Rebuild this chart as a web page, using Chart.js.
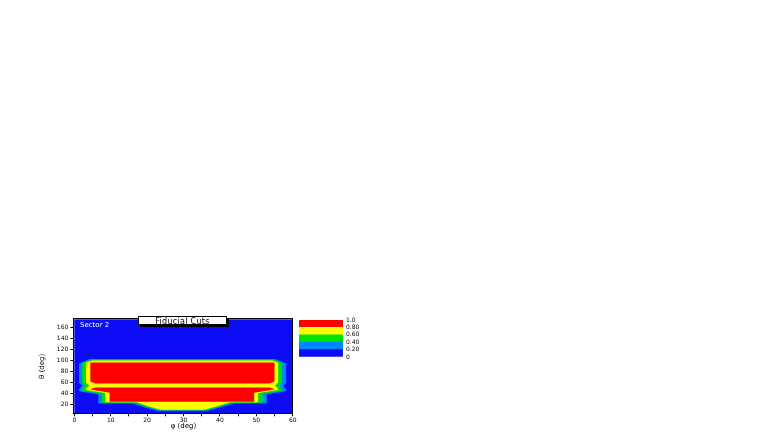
<!DOCTYPE html>
<html>
<head>
<meta charset="utf-8">
<script src="https://cdn.jsdelivr.net/npm/chart.js@4.4.0/dist/chart.umd.min.js"></script>
<style>
html, body { margin: 0; padding: 0; background: #fff; width: 763px; height: 436px; overflow: hidden; }
#main { position: absolute; left: 0; top: 300px; }
#scale { position: absolute; left: 295px; top: 310px; }
#title {
  position: absolute; left: 138px; top: 316px; width: 87px; height: 6px; padding-top: 1px;
  background: #fff; border: 1px solid #000; box-shadow: 2px 2px 0 #000;
  font: 8px "DejaVu Sans", sans-serif; line-height: 7px; text-align: center; color: #000;
  letter-spacing: 0.3px; overflow: visible;
}
#sector {
  position: absolute; left: 80px; top: 321px;
  font: 7px "DejaVu Sans", sans-serif; color: #fff;
}
</style>
</head>
<body>
<canvas id="main" width="320" height="130"></canvas>
<canvas id="scale" width="70" height="50"></canvas>
<div id="title">Fiducial Cuts</div>
<div id="sector">Sector 2</div>
<script>
// contour levels and colour scale labels
const levels = [0, 0.2, 0.4, 0.6, 0.8, 1.0];
const levelLabels = ['0', '0.20', '0.40', '0.60', '0.80', '1.0'];

const phiTicks = [0, 10, 20, 30, 40, 50, 60];
const phiMinorTicks = [5, 15, 25, 35, 45, 55];
const thetaTicks = [20, 40, 60, 80, 100, 120, 140, 160];

// contour outlines, [phi, theta]
const contour20 = [[4.0,102.5],[55.3,102.5],[58.2,94.5],[58.2,59],[57.4,54.5],[58.2,47.5],[58.2,44],[52.9,38.5],[52.9,22],
  [44,22],[40,14.5],[36.5,8.3],[23,8.3],[19.5,14.5],[16,22],[6.6,22],[6.6,38.5],[1.3,44],[1.3,47.5],[2.1,54.5],[1.3,59],[1.3,94.5]];
const contour40 = [[4.6,101.8],[54.8,101.8],[57.1,95.5],[57.1,59],[56.3,54.5],[57.1,48],[57.1,45.2],[51.7,39.7],[51.7,23],
  [43.4,23],[39.5,15.5],[36.1,9.4],[23.4,9.4],[20,15.5],[16.6,23],[7.6,23],[7.6,39.7],[2.2,45.2],[2.2,48],[3,54.5],[2.2,59],[2.2,95.5]];
const contour60 = [[5,100],[54.4,100],[56,96],[56,60],[55.1,54.5],[56,48.5],[56,46.4],[50.5,40.8],[50.5,24],
  [42.8,24],[39,16.5],[35.7,10.5],[23.8,10.5],[20.5,16.5],[17.2,24],[8.5,24],[8.5,40.8],[3.2,46.4],[3.2,48.5],[4.1,54.5],[3.2,60],[3.2,96]];
const contour80Upper = [[4.4,96.5],[55,96.5],[55,62],[53.6,58.2],[5.8,58.2],[4.4,62]];
const contour80Lower = [[5.8,51],[53.6,51],[54.9,48],[54.9,47.2],[49.4,41.5],[49.4,24.8],[9.7,24.8],[9.7,41.5],[4.5,47.2],[4.5,48]];

const palette = ['rgb(12,12,245)', 'rgb(0,135,255)', 'rgb(0,225,0)', 'rgb(255,255,0)', 'rgb(255,0,0)'];

Chart.defaults.font.family = '"DejaVu Sans", sans-serif';
Chart.defaults.color = '#000';

function band(points, color) {
  return {
    data: points.map(([x, y]) => ({x, y})),
    fill: 'shape', backgroundColor: color, borderColor: color,
    borderWidth: 0, pointRadius: 0, tension: 0
  };
}

const frame = {
  id: 'frame',
  beforeDatasetsDraw(chart) {
    const a = chart.chartArea, ctx = chart.ctx;
    ctx.save();
    ctx.fillStyle = palette[0];
    ctx.fillRect(a.left, a.top, a.right - a.left, a.bottom - a.top);
    ctx.restore();
  },
  afterDatasetsDraw(chart) {
    const a = chart.chartArea, ctx = chart.ctx;
    ctx.save();
    ctx.strokeStyle = '#000';
    ctx.lineWidth = 1;
    ctx.strokeRect(Math.round(a.left) - 0.5, Math.round(a.top) - 0.5, Math.round(a.right - a.left) + 1, Math.round(a.bottom - a.top) + 1);
    ctx.restore();
  }
};

// first dataset is drawn on top, so the innermost level goes first
new Chart(document.getElementById('main'), {
  type: 'line',
  data: {
    datasets: [
      band(contour80Upper, palette[4]),
      band(contour80Lower, palette[4]),
      band(contour60, palette[3]),
      band(contour40, palette[2]),
      band(contour20, palette[1])
    ]
  },
  options: {
    responsive: false,
    animation: false,
    events: [],
    layout: {padding: {left: 36, top: 19.3, right: 27.3, bottom: 0}},
    plugins: {legend: {display: false}, tooltip: {enabled: false}},
    scales: {
      x: {
        type: 'linear', min: 0, max: 60,
        afterBuildTicks: s => { s.ticks = phiTicks.concat(phiMinorTicks).sort((a, b) => a - b).map(v => ({value: v})); },
        ticks: {font: {size: 6}, padding: 1, maxRotation: 0, autoSkip: false,
          callback: v => phiTicks.includes(v) ? String(v) : ''},
        grid: {drawOnChartArea: false, tickLength: 3, color: '#000'},
        border: {display: false},
        title: {display: true, text: 'φ (deg)', font: {size: 7}, padding: {top: 0, bottom: 0}},
        afterFit: s => { s.height = 16.7; }
      },
      y: {
        type: 'linear', min: 4, max: 175,
        afterBuildTicks: s => { s.ticks = thetaTicks.map(v => ({value: v})); },
        ticks: {font: {size: 6}, padding: 2, autoSkip: false},
        grid: {drawOnChartArea: false, tickLength: 4, color: '#000'},
        border: {display: false},
        title: {display: true, text: 'θ (deg)', font: {size: 7}, padding: {top: 2, bottom: 0}},
        afterFit: s => { s.width = 38.3; }
      }
    }
  },
  plugins: [frame]
});

// colour scale
new Chart(document.getElementById('scale'), {
  type: 'bar',
  data: {
    labels: [''],
    datasets: palette.map((c, i) => ({
      data: [[levels[i], levels[i + 1]]],
      backgroundColor: c, borderWidth: 0,
      barPercentage: 1, categoryPercentage: 1
    }))
  },
  options: {
    responsive: false,
    animation: false,
    events: [],
    layout: {padding: {left: 4, top: 10, right: 0, bottom: 3}},
    plugins: {legend: {display: false}, tooltip: {enabled: false}},
    scales: {
      x: {stacked: true, display: false},
      y: {
        position: 'right', min: 0, max: 1,
        afterBuildTicks: s => { s.ticks = levels.map(v => ({value: v})); },
        ticks: {font: {size: 6}, padding: 3, autoSkip: false, callback: (v, i) => levelLabels[i]},
        grid: {drawOnChartArea: false, drawTicks: false},
        border: {display: false},
        afterFit: s => { s.width = 22; s.paddingTop = 0; s.paddingBottom = 0; }
      }
    }
  }
});
</script>
</body>
</html>
